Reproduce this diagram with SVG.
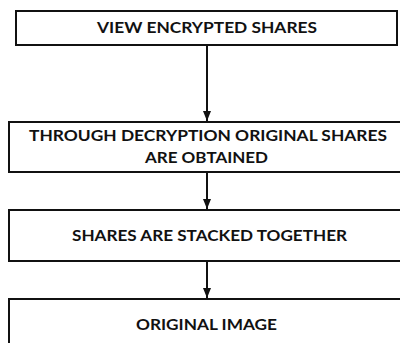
<svg xmlns="http://www.w3.org/2000/svg" width="400" height="343" viewBox="0 0 400 343">
<style>
.box{fill:#fff;stroke:#111;stroke-width:2}
.lbl{font-family:Lato,"Liberation Sans",sans-serif;font-weight:bold;font-size:14.5px;fill:#111;text-anchor:middle}
.con{stroke:#111;stroke-width:2;fill:none}
</style>
<defs>
<marker id="ah" markerWidth="10" markerHeight="8" refX="10" refY="4" orient="auto" markerUnits="userSpaceOnUse">
<path d="M0,0 L10,4 L0,8 Z" fill="#111"/>
</marker>
</defs>
<rect width="400" height="343" fill="#fff"/>
<g id="n1"><rect class="box" x="16" y="11" width="381" height="34"/>
<text class="lbl" x="207" y="33" textLength="220" lengthAdjust="spacingAndGlyphs">VIEW ENCRYPTED SHARES</text></g>
<g id="n2"><rect class="box" x="9" y="122" width="395" height="50"/>
<text class="lbl" x="208" y="141" textLength="358" lengthAdjust="spacingAndGlyphs">THROUGH DECRYPTION ORIGINAL SHARES</text>
<text class="lbl" x="206.5" y="163" textLength="123" lengthAdjust="spacingAndGlyphs">ARE OBTAINED</text></g>
<g id="n3"><rect class="box" x="9" y="210" width="395" height="51"/>
<text class="lbl" x="209.5" y="241" textLength="275" lengthAdjust="spacingAndGlyphs">SHARES ARE STACKED TOGETHER</text></g>
<g id="n4"><rect class="box" x="9" y="299" width="395" height="60"/>
<text class="lbl" x="206.5" y="330" textLength="141" lengthAdjust="spacingAndGlyphs">ORIGINAL IMAGE</text></g>
<g id="connectors">
<line class="con" x1="207" y1="45" x2="207" y2="121" marker-end="url(#ah)"/>
<line class="con" x1="207" y1="172" x2="207" y2="209" marker-end="url(#ah)"/>
<line class="con" x1="207" y1="261" x2="207" y2="298" marker-end="url(#ah)"/>
</g>
</svg>
